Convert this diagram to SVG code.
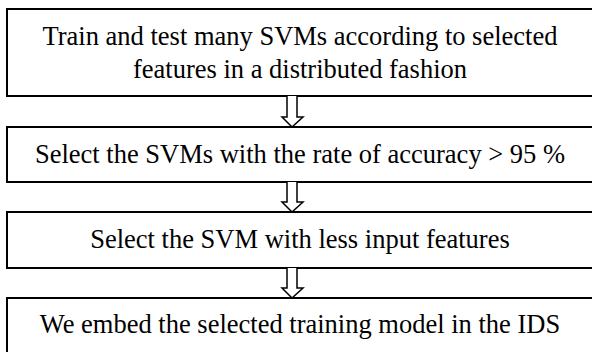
<svg xmlns="http://www.w3.org/2000/svg" width="592" height="352" viewBox="0 0 592 352">
  <style>
    .box { fill: #ffffff; stroke: #000000; stroke-width: 2; }
    .lbl { font-family: "Liberation Serif", "Times New Roman", serif; font-size: 26.5px; fill: #000000; text-anchor: middle; }
    .arrow { fill: #ffffff; stroke: #000000; stroke-width: 1.5; stroke-linejoin: miter; }
  </style>
  <rect width="592" height="352" fill="#ffffff"/>

  <g id="step-train">
    <rect class="box" x="7" y="9" width="600" height="87"/>
    <text class="lbl" x="300" y="45">Train and test many SVMs according to selected</text>
    <text class="lbl" x="300" y="78">features in a distributed fashion</text>
  </g>

  <g id="step-accuracy">
    <rect class="box" x="7" y="127" width="600" height="55"/>
    <text class="lbl" x="300" y="163">Select the SVMs with the rate of accuracy &gt; 95 %</text>
  </g>

  <g id="step-features">
    <rect class="box" x="7" y="212" width="600" height="56"/>
    <text class="lbl" x="300" y="248">Select the SVM with less input features</text>
  </g>

  <g id="step-embed">
    <rect class="box" x="7" y="298" width="600" height="70"/>
    <text class="lbl" x="300" y="333">We embed the selected training model in the IDS</text>
  </g>

  <g id="connectors">
    <path class="arrow" d="M287,96 V117 H282 L292,127 L303,117 H297 V96"/>
    <path class="arrow" d="M287,182 V202 H282 L292,212 L303,202 H297 V182"/>
    <path class="arrow" d="M287,268 V288 H282 L292,298 L303,288 H297 V268"/>
  </g>
</svg>
